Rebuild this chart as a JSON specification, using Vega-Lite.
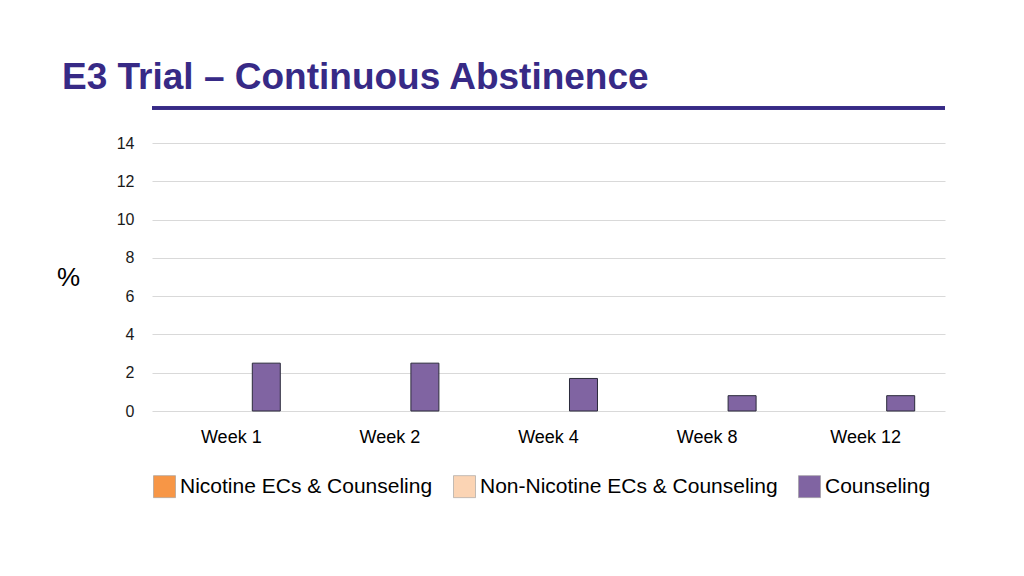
{
  "$schema": "https://vega.github.io/schema/vega-lite/v6.json",
  "width": 793,
  "height": 268,
  "autosize": {"type": "none"},
  "padding": {"left": 152, "top": 143, "right": 79, "bottom": 165},
  "background": "white",
  "title": {
    "text": "E3 Trial – Continuous Abstinence",
    "anchor": "start",
    "frame": "group",
    "dx": -90,
    "dy": 66,
    "offset": 46,
    "baseline": "alphabetic",
    "font": "Liberation Sans",
    "fontSize": 37,
    "fontWeight": "bold",
    "color": "#372a86"
  },
  "config": {
    "view": {"stroke": null},
    "font": "Liberation Sans",
    "axisY": {
      "title": "%",
      "titleAngle": 0,
      "titleX": -84,
      "titleY": 134.5,
      "titleAlign": "center",
      "titleBaseline": "middle",
      "titleFontSize": 26,
      "titleFontWeight": "normal",
      "titleColor": "#000000",
      "labelOverlap": false,
      "labelFontSize": 16,
      "labelColor": "#1a1a1a",
      "labelPadding": 18,
      "domain": false,
      "ticks": false,
      "gridColor": "#d9d9d9",
      "gridWidth": 1
    }
  },
  "data": {
    "values": [
      {"week": "Week 1", "series": "Counseling", "value": 2.5},
      {"week": "Week 2", "series": "Counseling", "value": 2.5},
      {"week": "Week 4", "series": "Counseling", "value": 1.7},
      {"week": "Week 8", "series": "Counseling", "value": 0.8},
      {"week": "Week 12", "series": "Counseling", "value": 0.8}
    ]
  },
  "layer": [
    {
      "mark": {"type": "bar", "stroke": "#2b2b3b", "strokeWidth": 1},
      "encoding": {
        "x": {
          "field": "week",
          "type": "nominal",
          "sort": ["Week 1", "Week 2", "Week 4", "Week 8", "Week 12"],
          "scale": {"paddingInner": 0, "paddingOuter": 0},
          "axis": {
            "title": null,
            "labelAngle": 0,
            "labelFontSize": 18,
            "labelColor": "#000000",
            "labelPadding": 17,
            "domain": false,
            "ticks": false,
            "grid": false
          }
        },
        "xOffset": {
          "field": "series",
          "type": "nominal",
          "scale": {
            "domain": ["Nicotine ECs & Counseling", "Non-Nicotine ECs & Counseling", "Counseling"],
            "paddingInner": 0.2,
            "paddingOuter": 0.866
          }
        },
        "y": {
          "field": "value",
          "type": "quantitative",
          "scale": {"domain": [0, 14], "nice": false},
          "axis": {"title": "%", "values": [0, 2, 4, 6, 8, 10, 12, 14]}
        },
        "color": {
          "field": "series",
          "type": "nominal",
          "scale": {
            "domain": ["Nicotine ECs & Counseling", "Non-Nicotine ECs & Counseling", "Counseling"],
            "range": ["#F79646", "#FBD4B4", "#8064A2"]
          },
          "legend": {
            "title": null,
            "orient": "none",
            "direction": "horizontal",
            "legendX": 1,
            "legendY": 332,
            "padding": 0,
            "symbolType": "square",
            "symbolSize": 484,
            "symbolStrokeColor": "#9a9a9a",
            "symbolStrokeWidth": 0.6,
            "symbolOpacity": 1,
            "labelFontSize": 21,
            "labelColor": "#000000",
            "labelOffset": 4,
            "labelLimit": 400,
            "columnPadding": 19
          }
        }
      }
    },
    {
      "mark": {"type": "rule", "color": "#372a86", "strokeWidth": 3},
      "encoding": {
        "y": {"datum": 15.83, "type": "quantitative", "axis": {"title": "%", "values": [0, 2, 4, 6, 8, 10, 12, 14]}}
      }
    }
  ]
}
